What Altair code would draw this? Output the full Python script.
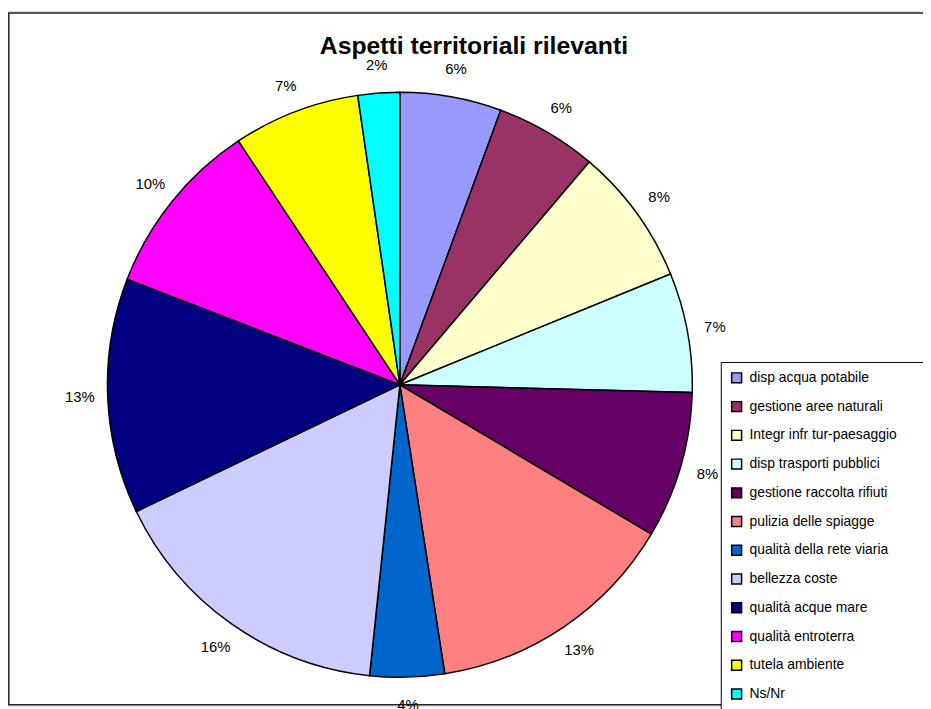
import altair as alt
import pandas as pd

title_text = "Aspetti territoriali rilevanti"

categories = [
    "disp acqua potabile",
    "gestione aree naturali",
    "Integr infr tur-paesaggio",
    "disp trasporti pubblici",
    "gestione raccolta rifiuti",
    "pulizia delle spiagge",
    "qualità della rete viaria",
    "bellezza coste",
    "qualità acque mare",
    "qualità entroterra",
    "tutela ambiente",
    "Ns/Nr",
]
values = [5.6, 5.6, 7.6, 6.6, 8.1, 14.0, 4.1, 16.2, 13.0, 9.8, 7.0, 2.3]
labels = ["6%", "6%", "8%", "7%", "8%", "13%", "4%", "16%", "13%", "10%", "7%", "2%"]
colors = [
    "#9999FF", "#993366", "#FFFFCC", "#CCFFFF", "#660066", "#FF8080",
    "#0066CC", "#CCCCFF", "#000080", "#FF00FF", "#FFFF00", "#00FFFF",
]

df = pd.DataFrame({
    "categoria": categories,
    "valore": values,
    "etichetta": labels,
    "ordine": list(range(len(categories))),
})

W, H = 923, 701
CX, CY = 395.3, 377.0
FONT = "Liberation Sans, Arial, Helvetica, sans-serif"

base = alt.Chart(df).encode(
    theta=alt.Theta("valore:Q", stack=True),
    order=alt.Order("ordine:Q"),
)

pie = base.mark_arc(radius=295, stroke="black", strokeWidth=1.5).encode(
    x=alt.value(CX),
    y=alt.value(CY),
    color=alt.Color(
        "categoria:N",
        scale=alt.Scale(domain=categories, range=colors),
        legend=alt.Legend(
            title=" ",
            titleOrient="right",
            titlePadding=40,
            orient="none",
            legendX=719,
            legendY=354,
            symbolType="square",
            symbolSize=100,
            symbolStrokeColor="black",
            symbolStrokeWidth=1.5,
            labelFont=FONT,
            labelFontSize=14,
            labelColor="black",
            labelOffset=6,
            labelLimit=400,
            rowPadding=13,
            padding=9,
            strokeColor="black",
            fillColor="white",
        ),
    ),
)

text = base.mark_text(
    radius=323, font=FONT, fontSize=15, color="black", align="center", baseline="middle"
).encode(
    x=alt.value(CX),
    y=alt.value(CY),
    text="etichetta:N",
)

title = alt.Chart(pd.DataFrame({"t": [title_text]})).mark_text(
    font=FONT, fontSize=25, fontWeight="bold", color="black", align="center", baseline="alphabetic"
).encode(x=alt.value(470), y=alt.value(43), text="t:N")

frame = alt.Chart(pd.DataFrame({"f": [0]})).mark_rect(
    fill="transparent", stroke="#222222", strokeWidth=1.5
).encode(x=alt.value(0.8), x2=alt.value(980), y=alt.value(2), y2=alt.value(699.7))

chart = (
    alt.layer(frame, pie, text, title)
    .properties(width=W, height=H, padding=0, autosize=alt.AutoSizeParams(type="none"))
    .configure_view(stroke=None)
    .configure(background="white")
)

chart.save("out.html", embed_options={"renderer": "svg", "actions": False})
